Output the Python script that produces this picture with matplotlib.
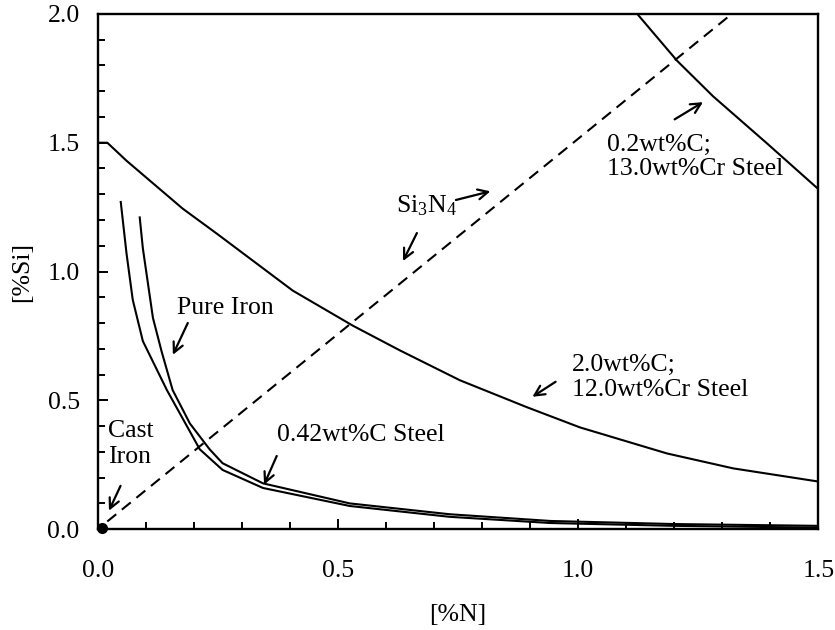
import matplotlib.pyplot as plt
from matplotlib.ticker import MultipleLocator

plt.rcParams['font.family'] = ['Liberation Serif', 'DejaVu Serif']
plt.rcParams['mathtext.default'] = 'regular'

# 2.0wt%C; 12.0wt%Cr steel
n_cr12 = [0.0, 0.02, 0.06, 0.177, 0.248, 0.406, 0.531, 0.629, 0.754, 0.894, 1.004, 1.185, 1.323, 1.5]
si_cr12 = [1.5, 1.5, 1.43, 1.244, 1.147, 0.926, 0.79, 0.694, 0.578, 0.473, 0.395, 0.294, 0.236, 0.185]

# 0.2wt%C; 13.0wt%Cr steel
n_cr13 = [1.123, 1.206, 1.281, 1.394, 1.5]
si_cr13 = [2.0, 1.818, 1.68, 1.496, 1.32]

# Si3N4 line
n_si3n4 = [0.02, 1.32]
si_si3n4 = [0.03, 2.0]

# pure iron
n_pure = [0.0875, 0.094, 0.115, 0.133, 0.156, 0.192, 0.233, 0.26, 0.344, 0.525, 0.733, 0.942, 1.2, 1.5]
si_pure = [1.21, 1.09, 0.82, 0.69, 0.54, 0.41, 0.31, 0.256, 0.178, 0.10, 0.058, 0.032, 0.02, 0.013]

# 0.42wt%C steel
n_c042 = [0.048, 0.06, 0.073, 0.094, 0.144, 0.2125, 0.26, 0.344, 0.525, 0.733, 0.942, 1.2, 1.5]
si_c042 = [1.27, 1.07, 0.89, 0.73, 0.54, 0.31, 0.23, 0.16, 0.09, 0.048, 0.024, 0.013, 0.006]

# cast iron point
n_cast = [0.01]
si_cast = [0.005]

fig = plt.figure(figsize=(8.35, 6.3), dpi=100)
ax = fig.add_axes([0.117, 0.160, 0.863, 0.818])

lw = 1.5
ax.plot(n_cr12, si_cr12, color='black', lw=lw)
ax.plot(n_cr13, si_cr13, color='black', lw=lw)
ax.plot(n_si3n4, si_si3n4, color='black', lw=lw, linestyle=(0, (5.5, 3.5)))
ax.plot(n_pure, si_pure, color='black', lw=lw)
ax.plot(n_c042, si_c042, color='black', lw=lw)
ax.plot(n_cast, si_cast, 'o', color='black', ms=7, clip_on=False, zorder=5)

fs = 18.5
arrow = dict(arrowstyle='->', color='black', lw=1.6, mutation_scale=18)

ax.annotate('', xy=(0.154, 0.667), xytext=(0.19, 0.81), arrowprops=arrow)
ax.text(0.265, 0.86, 'Pure Iron', fontsize=fs, ha='center', va='center')

ax.annotate('', xy=(0.021, 0.062), xytext=(0.05, 0.178), arrowprops=arrow)
ax.text(0.021, 0.33, 'Cast\nIron', fontsize=fs, ha='left', va='center', linespacing=1.2)

ax.annotate('', xy=(0.344, 0.163), xytext=(0.375, 0.294), arrowprops=arrow)
ax.text(0.373, 0.364, '0.42wt%C Steel', fontsize=fs, ha='left', va='center')

ax.text(0.685, 1.256, 'Si$_3$N$_4$', fontsize=fs, ha='center', va='center')
ax.annotate('', xy=(0.823, 1.314), xytext=(0.74, 1.275), arrowprops=arrow)
ax.annotate('', xy=(0.633, 1.031), xytext=(0.667, 1.159), arrowprops=arrow)

ax.annotate('', xy=(1.265, 1.663), xytext=(1.196, 1.585), arrowprops=arrow)
ax.text(1.06, 1.445, '0.2wt%C;\n13.0wt%Cr Steel', fontsize=fs, ha='left', va='center', linespacing=1.15)

ax.annotate('', xy=(0.9, 0.508), xytext=(0.958, 0.578), arrowprops=arrow)
ax.text(0.9875, 0.589, '2.0wt%C;\n12.0wt%Cr Steel', fontsize=fs, ha='left', va='center', linespacing=1.15)

ax.set_xlim(0, 1.5)
ax.set_ylim(0, 2.0)
ax.xaxis.set_major_locator(MultipleLocator(0.5))
ax.xaxis.set_minor_locator(MultipleLocator(0.1))
ax.yaxis.set_major_locator(MultipleLocator(0.5))
ax.yaxis.set_minor_locator(MultipleLocator(0.1))
ax.xaxis.set_major_formatter(plt.FormatStrFormatter('%.1f'))
ax.yaxis.set_major_formatter(plt.FormatStrFormatter('%.1f'))

ax.tick_params(which='both', direction='in', top=False, right=False, width=1.4, labelsize=18.5)
ax.tick_params(which='major', length=7)
ax.tick_params(which='minor', length=5)
ax.tick_params(axis='x', pad=22)
ax.tick_params(axis='y', pad=13)
for s in ax.spines.values():
    s.set_linewidth(1.7)

ax.set_xlabel('[%N]', fontsize=18.5, labelpad=16)
ax.set_ylabel('[%Si]', fontsize=18.5, labelpad=10)

fig.savefig('out.png', dpi=100)
